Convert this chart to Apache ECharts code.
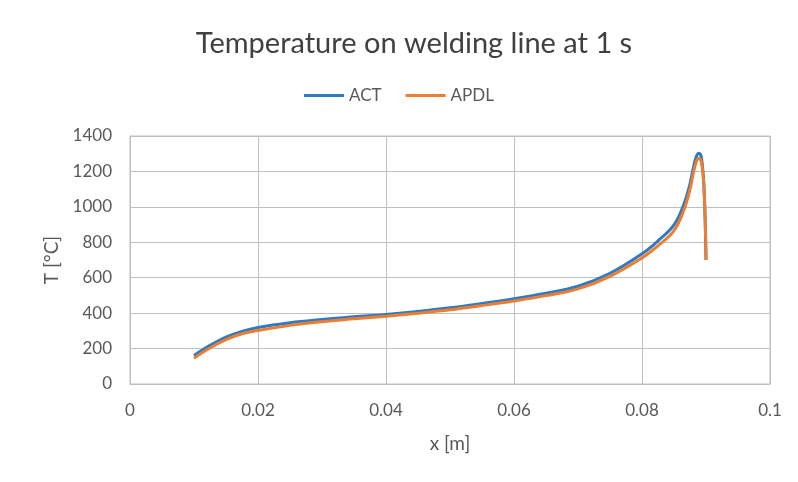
<!DOCTYPE html>
<html><head><meta charset="utf-8">
<script src="https://cdn.jsdelivr.net/npm/echarts@6/dist/echarts.min.js"></script>
<style>html,body{margin:0;padding:0;background:#fff}#c{width:798px;height:482px}</style>
</head><body><div id="c"></div>
<script>
const xValues   = [0.01, 0.0125, 0.015, 0.0175, 0.02, 0.025, 0.03, 0.035, 0.04, 0.045, 0.05, 0.055, 0.06, 0.065, 0.07, 0.075, 0.08, 0.0825, 0.085, 0.0865, 0.0875, 0.088, 0.0885, 0.0889, 0.0893, 0.0897, 0.09];
const actValues = [161, 218, 265, 297, 319, 346, 364, 379, 393, 410, 430, 455, 482, 513, 552, 625, 735, 808, 898, 1010, 1130, 1218, 1285, 1302, 1275, 1100, 700];
const apdlValues= [146, 203, 250, 284, 302, 331, 352, 368, 383, 400, 419, 443, 469, 499, 537, 608, 712, 780, 866, 978, 1098, 1188, 1255, 1274, 1250, 1100, 700];
const xTicks = [0, 0.02, 0.04, 0.06, 0.08, 0.1];
const yTicks = [0, 200, 400, 600, 800, 1000, 1200, 1400];

const chart = echarts.init(document.getElementById('c'));
const font = 'Lato, "Open Sans", sans-serif';
chart.setOption({
  animation: false,
  backgroundColor: '#fff',
  title: { text: 'Temperature on welding line at 1 s', left: 409, textAlign: 'center', top: 24,
    textStyle: { fontFamily: font, fontSize: 29, fontWeight: 'normal', color: '#404040' } },
  legend: { top: 82, left: 'center', itemWidth: 40, itemHeight: 3, itemGap: 24,
    icon: 'rect',
    textStyle: { fontFamily: font, fontSize: 17, color: '#595959' },
    data: ['ACT', 'APDL'] },
  grid: { left: 130, right: 28, top: 136, bottom: 98, show: true, borderColor: '#bfbfbf', borderWidth: 1 },
  xAxis: { type: 'value', min: 0, max: 0.1, interval: 0.02,
    name: 'x [m]', nameLocation: 'middle', nameGap: 50,
    nameTextStyle: { fontFamily: font, fontSize: 19, color: '#595959' },
    axisLine: { show: true, lineStyle: { color: '#bfbfbf' } },
    axisTick: { show: false },
    splitLine: { show: true, lineStyle: { color: '#bfbfbf' } },
    axisLabel: { fontFamily: font, fontSize: 17, color: '#595959', margin: 18,
      formatter: v => xTicks.includes(+v.toFixed(2)) ? String(+v.toFixed(2)) : '' } },
  yAxis: { type: 'value', min: 0, max: 1400, interval: 200,
    name: 'T [°C]', nameLocation: 'middle', nameGap: 68,
    nameTextStyle: { fontFamily: font, fontSize: 19, color: '#595959' },
    axisLine: { show: true, lineStyle: { color: '#bfbfbf' } },
    axisTick: { show: false },
    splitLine: { show: true, lineStyle: { color: '#bfbfbf' } },
    axisLabel: { fontFamily: font, fontSize: 17, color: '#595959', margin: 18,
      formatter: v => yTicks.includes(v) ? String(v) : '' } },
  series: [
    { name: 'ACT', type: 'line', smooth: 0.4, showSymbol: false, symbol: 'none',
      lineStyle: { width: 3, color: '#2E7BC4' }, itemStyle: { color: '#2E7BC4' },
      data: xValues.map((x, i) => [x, actValues[i]]) },
    { name: 'APDL', type: 'line', smooth: 0.4, showSymbol: false, symbol: 'none',
      lineStyle: { width: 3, color: '#ED7D31' }, itemStyle: { color: '#ED7D31' },
      data: xValues.map((x, i) => [x, apdlValues[i]]) }
  ]
});
</script></body></html>
